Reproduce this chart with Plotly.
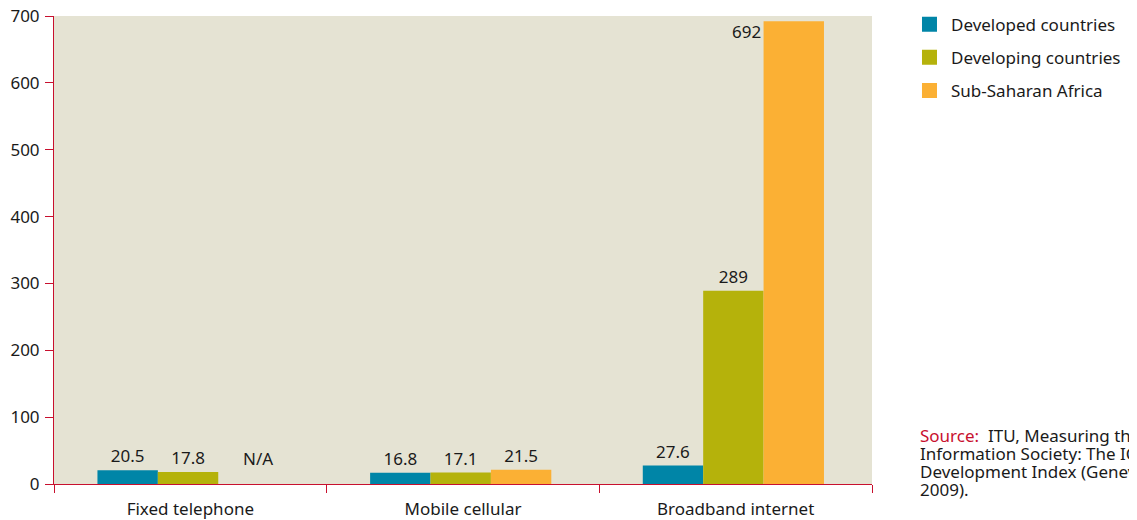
import plotly.graph_objects as go

categories = ["Fixed telephone", "Mobile cellular", "Broadband internet"]
developed = [20.5, 16.8, 27.6]
developing = [17.8, 17.1, 289]
ssa = [None, 21.5, 692]
series_names = ["Developed countries", "Developing countries", "Sub-Saharan Africa"]
colors = ["#0085a7", "#b5b20b", "#fbb034"]
y_ticks = [0, 100, 200, 300, 400, 500, 600, 700]
source_lines = [
    "<span style='color:#c8102e'>Source:</span>  ITU, Measuring the",
    "Information Society: The ICT",
    "Development Index (Geneva,",
    "2009).",
]

RED = "#c8102e"
TXT = "#1a1a1a"
FONT = "Noto Sans"
FS = 17

BAR_W = 0.2215
SHIFT = -0.0084
offsets = [-1.5 * BAR_W + SHIFT, -0.5 * BAR_W + SHIFT, 0.5 * BAR_W + SHIFT]

def fmt(v):
    return "" if v is None else ("%g" % v)

fig = go.Figure()
all_series = [developed, developing, ssa]
for name, vals, col, off in zip(series_names, all_series, colors, offsets):
    texts = [fmt(v) for v in vals]
    if vals is ssa:
        texts[2] = ""  # drawn as annotation to the left of the bar
    fig.add_trace(go.Bar(
        x=categories, y=vals, name=name, marker_color=col, marker_line_width=0,
        width=BAR_W, offset=off,
        text=texts, textposition="outside", cliponaxis=False,
        textfont=dict(family=FONT, size=FS, color=TXT), showlegend=False,
    ))

# legend entries
for i, (name, col) in enumerate(zip(series_names, colors)):
    fig.add_trace(go.Scatter(
        x=[None], y=[None], mode="markers", name=name, legendgroup=f"g{i}",
        marker=dict(symbol="square", size=15, color=col),
    ))

fig.add_annotation(x=2 + offsets[2], y=ssa[2], xref="x", yref="y",
                   text=fmt(ssa[2]), showarrow=False, xanchor="right", yanchor="top",
                   xshift=-1, yshift=3, font=dict(family=FONT, size=FS, color=TXT))
fig.add_annotation(x=0 + offsets[2] + BAR_W / 2, y=0, xref="x", yref="y",
                   text="N/A", showarrow=False, xanchor="center", yanchor="bottom",
                   xshift=10, yshift=12, font=dict(family=FONT, size=FS, color=TXT))

PLOT_H = 468
for i, line in enumerate(source_lines):
    fig.add_annotation(
        x=1.056, y=0.1026 - i * 18 / PLOT_H, xref="paper", yref="paper",
        xanchor="left", yanchor="middle", align="left", showarrow=False,
        text=line, font=dict(family=FONT, size=FS, color=TXT),
    )

fig.update_layout(
    width=1137, height=520,
    margin=dict(l=46, r=273, t=8, b=44, autoexpand=False),
    paper_bgcolor="white", plot_bgcolor="#e5e3d3",
    font=dict(family=FONT, size=FS, color=TXT),
    legend=dict(x=1.044, y=1.02, xanchor="left", yanchor="top",
                font=dict(family=FONT, size=FS, color=TXT),
                tracegroupgap=8, itemwidth=33, bgcolor="rgba(0,0,0,0)"),
    xaxis=dict(showline=True, linecolor=RED, linewidth=1, ticks="outside",
               tickson="boundaries", ticklen=8, tickcolor=RED, showgrid=False,
               automargin=False, range=[-0.5, 2.5], ticklabelstandoff=10,
               ticklabeloverflow="allow",
               tickfont=dict(family=FONT, size=FS, color=TXT)),
    yaxis=dict(range=[0, 700], tickvals=y_ticks, showline=True, linecolor=RED,
               linewidth=1, ticks="outside", ticklen=8, tickcolor=RED,
               showgrid=False, zeroline=False, automargin=False,
               ticklabeloverflow="allow", ticklabelstandoff=2,
               tickfont=dict(family=FONT, size=FS, color=TXT)),
)

fig.write_html("out.html")
